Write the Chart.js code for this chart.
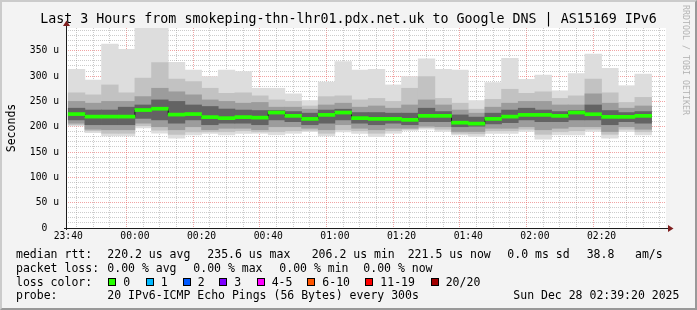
<!DOCTYPE html>
<html>
<head>
<meta charset="utf-8">
<script src="https://cdn.jsdelivr.net/npm/chart.js@4.4.1/dist/chart.umd.min.js"></script>
<style>
html, body { margin: 0; padding: 0; background: #f3f3f3; }
#frame { position: relative; width: 697px; height: 310px; background: #f3f3f3; overflow: hidden;
         font-family: "DejaVu Sans Mono", monospace; color: #000; }
#frame canvas { position: absolute; left: 0; top: 0; }
#edge { position: absolute; left: 0; top: 0; width: 697px; height: 310px; box-sizing: border-box;
        border-top: 2px solid #cbcbcb; border-left: 2px solid #cbcbcb;
        border-right: 2px solid #999; border-bottom: 2px solid #999; pointer-events: none; }
.t { position: absolute; white-space: pre; line-height: 14px; font-size: 11.5px; }
.sw { position: absolute; width: 6px; height: 6px; border: 1px solid #000; }
#title { position: absolute; left: 0; width: 697px; top: 11px; text-align: center; font-size: 13.3px; line-height: 16px; white-space: pre; }
#ylab { position: absolute; left: -29px; top: 121px; width: 80px; text-align: center; font-size: 11.5px; line-height: 14px; transform: rotate(-90deg); }
#brand { position: absolute; left: 631px; top: 55px; width: 110px; text-align: center; font-size: 8.3px; line-height: 10px; color: #b4b4b4; transform: rotate(90deg); white-space: pre; }
</style>
</head>
<body>
<div id="frame">
  <canvas id="smoke" width="697" height="310"></canvas>
  <div id="title">Last 3 Hours from smokeping-thn-lhr01.pdx.net.uk to Google DNS | AS15169 IPv6</div>
  <div id="ylab">Seconds</div>
  <div id="brand">RRDTOOL / TOBI OETIKER</div>
  <div id="legend"></div>
  <div id="edge"></div>
</div>
<script>
// 5 minute bins (start time of each bin)
const times = ['23:40','23:45','23:50','23:55','00:00','00:05','00:10','00:15','00:20','00:25',
               '00:30','00:35','00:40','00:45','00:50','00:55','01:00','01:05','01:10','01:15',
               '01:20','01:25','01:30','01:35','01:40','01:45','01:50','01:55','02:00','02:05',
               '02:10','02:15','02:20','02:25','02:30'];

// smoke bands, microseconds
const pingMin = [201.7,188.5,182,182,197.6,187.5,177.5,184,187,184,
                 187,187,184,187,190.5,182,190,187,180.6,187,
                 192.5,195,190.5,184,180.6,187,187,190.5,175.5,184,
                 184,190.5,177.5,190.5,184];
const p10 = [204,192,187,187,202,193,185,190,190,190,
             192,190,190,192,193,187,194,192,187,192,
             195,198,195,187,186,192,192,195,185,190,
             192,195,185,195,190];
const p25 = [207,195,194,194,207,200,194,200,194,197,
             197,194,200,200,197,194,204,197,194,197,
             197,201,200,190.5,190.5,197,197,200,194,197,
             200,200,190.5,200,195];
const p40 = [213.5,204,204,204,216.5,213.5,207,213.5,204,207,
             207,204,213.5,210,204,207,213.5,207,204,207,
             204,210,210,200,201,205.6,208,213.5,210,210,
             213.5,213.5,204,210,207];
const median = [225,220,220,220,233,235.6,224,225,219,217,
                219,218,228,221.5,215.5,223.4,228,217,215.5,215.5,
                213.6,221.5,221.5,208,206.2,215.5,220,223.4,223.4,221.5,
                228,224.7,219.5,219.5,221.5];
const p60 = [236.6,233,233,238.6,243,253,250,243,240,235,
             233,232,232,230,226.8,233,234.6,228,228,226.8,
             226.8,236.6,230,223.4,219,226.8,233,236.6,233,230,
             232,243,232,228,230];
const p75 = [250,246.5,250,250,259.5,276,269,263,253,250,
             246.5,248,238.6,238.6,234.6,243,246.5,238.6,241,236.6,
             243,253,243,233,226.8,238.6,246.5,250,250,243,
             243,265,246.5,236.6,241];
const p90 = [267,263,282.6,267,296,326.6,294,289,276,266,
             267,261,253,250,241,259.5,261,253,256,250,
             276,299,256,246.5,234.6,254,274,266,269,256,
             261,294,267,248,258];
const pingMax = [313.5,292,363,353,400,400,327,312,299,312,
                 309,276,276,265,251.7,288,328.6,312,313.5,282.6,
                 299,334,313.5,312,251.7,287,335,293.7,302,271,
                 305,343.7,315.5,281,304];

const xTickLabels = ['23:40','00:00','00:20','00:40','01:00','01:20','01:40','02:00','02:20'];
const yTickLabels = [0, 50, 100, 150, 200, 250, 300, 350];

const lossNames = ['0','1','2','3','4-5','6-10','11-19','20/20'];
const lossColors = ['#26ff00','#00b8ff','#0059ff','#7e00ff','#ff00ff','#ff5500','#ff0000','#a10000'];

// minutes after 23:40
function toMin(t) {
  let [h, m] = t.split(':').map(Number);
  if (h < 12) h += 24;
  return h * 60 + m - (23 * 60 + 40);
}
const BIN = 5;
const MEDIAN_HALF = 3; // half thickness of the median bar, in axis units

function band(lo, hi, color, order) {
  return {
    type: 'bar', order: order, backgroundColor: color,
    data: times.map((t, i) => ({ x: toMin(t) + BIN / 2, y: [lo[i], hi[i]] }))
  };
}

// dark stepped connector under the green median bars
const medianPts = times.map((t, i) => ({ x: toMin(t), y: median[i] }));
medianPts.push({ x: toMin(times[times.length - 1]) + BIN, y: median[median.length - 1] });

const plotBg = {
  id: 'plotBg',
  beforeDraw(chart) {
    const { ctx, chartArea: a } = chart;
    ctx.save();
    ctx.fillStyle = '#ffffff';
    ctx.fillRect(a.left, a.top, a.right - a.left, a.bottom - a.top);
    ctx.restore();
  }
};

const axisArrows = {
  id: 'axisArrows',
  afterDraw(chart) {
    const { ctx, chartArea: a } = chart;
    const b = Math.round(a.bottom) + 0.5, l = Math.round(a.left) + 0.5;
    ctx.save();
    ctx.strokeStyle = '#1c1c1c';
    ctx.lineWidth = 1;
    ctx.beginPath();
    ctx.moveTo(a.left - 2, b); ctx.lineTo(a.right + 4, b);
    ctx.moveTo(l, a.bottom + 2); ctx.lineTo(l, a.top - 3);
    ctx.stroke();
    ctx.fillStyle = '#7f1f1f';
    ctx.beginPath();
    ctx.moveTo(a.right + 2, b - 3.5); ctx.lineTo(a.right + 7.5, b); ctx.lineTo(a.right + 2, b + 3.5);
    ctx.closePath(); ctx.fill();
    ctx.beginPath();
    ctx.moveTo(l - 3.5, a.top - 2); ctx.lineTo(l, a.top - 7.5); ctx.lineTo(l + 3.5, a.top - 2);
    ctx.closePath(); ctx.fill();
    ctx.restore();
  }
};

const tickFont = { family: 'DejaVu Sans Mono', size: 9.7 };
const minorGrid = 'rgba(143,143,143,0.45)';
const majorGrid = 'rgba(230,90,90,0.55)';

new Chart(document.getElementById('smoke'), {
  type: 'bar',
  data: {
    datasets: [
      { type: 'bar', order: -1, backgroundColor: '#26ff00',
        data: times.map((t, i) => ({ x: toMin(t) + BIN / 2, y: [median[i] - MEDIAN_HALF, median[i] + MEDIAN_HALF] })) },
      { type: 'line', order: 0, data: medianPts, stepped: 'before', borderColor: '#1a1a1a',
        borderWidth: 1, pointRadius: 0, fill: false },
      band(p40, p60, '#636363', 1),
      band(p25, p75, '#9c9c9c', 2),
      band(p10, p90, '#c2c2c2', 3),
      band(pingMin, pingMax, '#dddddd', 4)
    ]
  },
  options: {
    responsive: false,
    animation: false,
    layout: { padding: { left: 0, top: 28, right: 31, bottom: 60 } },
    plugins: { legend: { display: false }, tooltip: { enabled: false } },
    datasets: { bar: { grouped: false, barPercentage: 1, categoryPercentage: 1, borderWidth: 0 } },
    scales: {
      x: {
        type: 'linear', offset: false, z: 1,
        min: -2 / 3, max: 180 - 2 / 3,
        afterBuildTicks(s) {
          const ticks = [];
          for (let v = 0; v < 180; v += BIN) ticks.push({ value: v });
          s.ticks = ticks;
        },
        afterFit(s) { s.height = 22; },
        ticks: {
          autoSkip: false, maxRotation: 0, padding: 3, color: '#000', font: tickFont,
          callback(v) {
            const lab = xTickLabels.find(t => toMin(t) === v);
            return lab || '';
          }
        },
        grid: {
          drawTicks: false, lineWidth: 1,
          color: c => (c.tick && c.tick.value % 20 === 0) ? majorGrid : minorGrid
        },
        border: { display: false, dash: [1, 1] }
      },
      y: {
        type: 'linear', z: 1, min: 0, max: 395,
        afterBuildTicks(s) {
          const ticks = [];
          for (let v = 0; v <= 390; v += 10) ticks.push({ value: v });
          s.ticks = ticks;
        },
        afterFit(s) { s.width = 66; },
        ticks: {
          autoSkip: false, padding: 7, color: '#000', font: tickFont,
          callback(v) {
            if (!yTickLabels.includes(v)) return '';
            return v === 0 ? '0  ' : v + ' u';
          }
        },
        grid: {
          drawTicks: false, lineWidth: 1,
          color: c => (c.tick && c.tick.value % 50 === 0) ? majorGrid : minorGrid
        },
        border: { display: false, dash: [1, 1] }
      }
    }
  },
  plugins: [plotBg, axisArrows]
});

// legend text under the graph
const legendRows = [
  { top: 247.3, items: [[16, 'median rtt:'], [107.3, '220.2 us avg'], [207.3, '235.6 us max'],
                        [311.7, '206.2 us min'], [407.7, '221.5 us now'], [507.3, '0.0 ms sd'],
                        [586.7, '38.8'], [635, 'am/s']] },
  { top: 260.7, items: [[16, 'packet loss:'], [107.3, '0.00 % avg'], [193.3, '0.00 % max'],
                        [279.3, '0.00 % min'], [363.3, '0.00 % now']] },
  { top: 274.5, items: [[16, 'loss color:']] },
  { top: 288.3, items: [[16, 'probe:'], [107.3, '20 IPv6-ICMP Echo Pings (56 Bytes) every 300s'],
                        [513.3, 'Sun Dec 28 02:39:20 2025']] }
];
const swatchX = [108.3, 145.7, 182.7, 219.3, 256.7, 307.3, 365.3, 430.7];

const legend = document.getElementById('legend');
legendRows.forEach(row => {
  row.items.forEach(([x, txt]) => {
    const d = document.createElement('div');
    d.className = 't';
    d.style.left = x + 'px';
    d.style.top = row.top + 'px';
    d.textContent = txt;
    legend.appendChild(d);
  });
});
lossNames.forEach((name, i) => {
  const s = document.createElement('div');
  s.className = 'sw';
  s.style.left = swatchX[i] + 'px';
  s.style.top = '278px';
  s.style.background = lossColors[i];
  legend.appendChild(s);
  const d = document.createElement('div');
  d.className = 't';
  d.style.left = (swatchX[i] + 15) + 'px';
  d.style.top = '274.5px';
  d.textContent = name;
  legend.appendChild(d);
});
</script>
</body>
</html>
